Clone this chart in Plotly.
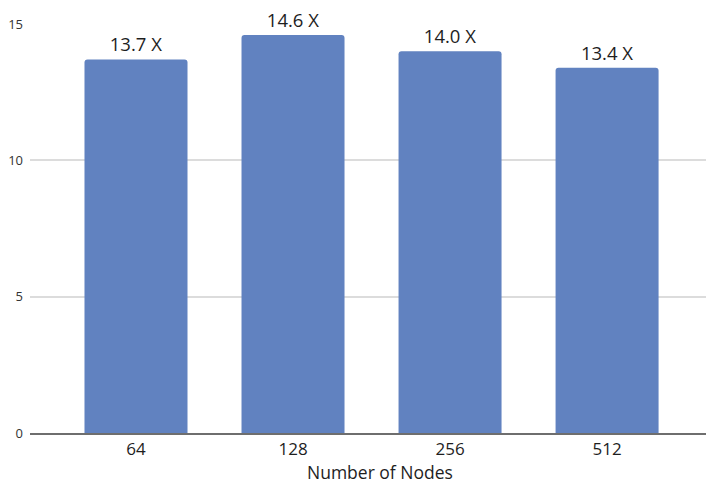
import plotly.graph_objects as go

# Speedup per cluster size
nodes = ["64", "128", "256", "512"]
speedup = [13.7, 14.6, 14.0, 13.4]
y_ticks = [0, 5, 10, 15]
x_title = "Number of Nodes"

fig = go.Figure(
    go.Bar(
        x=nodes,
        y=speedup,
        marker=dict(color="#6182c0", line=dict(width=0)),
        texttemplate="%{y:.1f} X",
        textposition="outside",
        textfont=dict(family="Open Sans, sans-serif", size=18.5, color="#1e1e1e"),
        cliponaxis=False,
    )
)

# x-axis title placed as an annotation at the bottom edge, slightly right of centre
fig.add_annotation(
    text=x_title,
    xref="paper",
    yref="paper",
    x=0.518,
    y=-52 / 409,
    xanchor="center",
    yanchor="bottom",
    borderpad=0,
    showarrow=False,
    font=dict(family="Open Sans, sans-serif", size=17.5, color="#1e1e1e"),
)

fig.update_layout(
    width=706,
    height=485,
    margin=dict(l=30, r=0, t=24, b=52),
    plot_bgcolor="white",
    paper_bgcolor="white",
    bargap=0.344,
    barcornerradius=3,
    showlegend=False,
    xaxis=dict(
        type="category",
        range=[-0.675, 3.63],
        showgrid=False,
        showline=True,
        linecolor="#6e6e6e",
        linewidth=1.5,
        ticks="",
        ticklabelstandoff=0,
        tickfont=dict(family="Open Sans, sans-serif", size=17, color="#1e1e1e"),
    ),
    yaxis=dict(
        range=[0, 15],
        tickvals=y_ticks,
        showgrid=True,
        gridcolor="#dcdcdc",
        gridwidth=1.5,
        zeroline=False,
        showline=False,
        ticks="",
        ticklabelstandoff=6,
        tickfont=dict(family="Open Sans, sans-serif", size=13, color="#333333"),
    ),
)

fig.write_html("out.html")
